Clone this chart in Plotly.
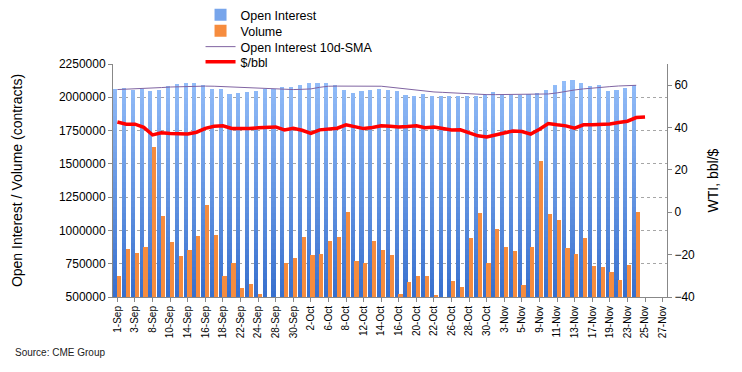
import numpy as np
import plotly.graph_objects as go

# ---------------- data ----------------
dates = ["1-Sep", "2-Sep", "3-Sep", "4-Sep", "8-Sep", "9-Sep", "10-Sep", "11-Sep",
         "14-Sep", "15-Sep", "16-Sep", "17-Sep", "18-Sep", "21-Sep", "22-Sep", "23-Sep",
         "24-Sep", "25-Sep", "28-Sep", "29-Sep", "30-Sep", "1-Oct", "2-Oct", "5-Oct",
         "6-Oct", "7-Oct", "8-Oct", "9-Oct", "12-Oct", "13-Oct", "14-Oct", "15-Oct",
         "16-Oct", "19-Oct", "20-Oct", "21-Oct", "22-Oct", "23-Oct", "26-Oct", "27-Oct",
         "28-Oct", "29-Oct", "30-Oct", "2-Nov", "3-Nov", "4-Nov", "5-Nov", "6-Nov",
         "9-Nov", "10-Nov", "11-Nov", "12-Nov", "13-Nov", "16-Nov", "17-Nov", "18-Nov",
         "19-Nov", "20-Nov", "23-Nov", "24-Nov", "25-Nov", "26-Nov", "27-Nov"]

open_interest = [2060000, 2068000, 2058000, 2060000, 2045000, 2058000, 2083000, 2098000,
                 2105000, 2105000, 2090000, 2060000, 2060000, 2023000, 2033000, 2040000,
                 2048000, 2060000, 2060000, 2075000, 2075000, 2090000, 2110000, 2110000,
                 2110000, 2090000, 2053000, 2035000, 2050000, 2058000, 2065000, 2058000,
                 2050000, 2015000, 2008000, 2023000, 2008000, 2008000, 2013000, 2008000,
                 2008000, 2008000, 2025000, 2040000, 2015000, 2015000, 2015000, 2025000,
                 2033000, 2053000, 2095000, 2120000, 2128000, 2105000, 2085000, 2095000,
                 2048000, 2055000, 2070000, 2090000]

volume = [658000, 861000, 833000, 878000, 1623000, 1111000, 916000, 811000,
          856000, 961000, 1192000, 966000, 660000, 758000, 570000, 598000,
          523000, 450000, 450000, 758000, 796000, 951000, 818000, 826000,
          923000, 951000, 1141000, 773000, 753000, 923000, 853000, 818000,
          523000, 615000, 660000, 660000, 515000, 450000, 623000, 578000,
          946000, 1134000, 753000, 1011000, 878000, 848000, 590000, 878000,
          1523000, 1124000, 1079000, 871000, 823000, 946000, 736000, 726000,
          691000, 628000, 741000, 1141000]

oi_sma10 = [2058000, 2060000, 2062000, 2065000, 2068000, 2073000, 2077000, 2080000,
            2083000, 2084000, 2084000, 2083000, 2080000, 2075000, 2072000, 2068000,
            2065000, 2062000, 2060000, 2058000, 2058000, 2060000, 2063000, 2075000,
            2083000, 2084000, 2084000, 2084000, 2084000, 2083000, 2083000, 2076000,
            2068000, 2063000, 2055000, 2047000, 2040000, 2037000, 2033000, 2030000,
            2025000, 2020000, 2020000, 2020000, 2020000, 2020000, 2020000, 2020000,
            2022000, 2025000, 2033000, 2045000, 2055000, 2063000, 2070000, 2075000,
            2080000, 2085000, 2088000, 2090000]

price = [42.6, 41.6, 41.6, 40.1, 36.5, 37.5, 37.2, 37.0, 37.0, 37.8, 39.6, 40.6,
         40.8, 39.6, 39.4, 39.5, 39.9, 40.1, 40.3, 38.9, 39.7, 38.7, 37.2, 38.9,
         39.5, 39.7, 41.3, 40.3, 39.5, 40.0, 40.8, 40.6, 40.3, 40.5, 40.8, 39.9,
         40.2, 39.5, 38.8, 38.9, 37.5, 36.1, 35.6, 36.6, 37.6, 38.4, 38.1, 36.9,
         39.2, 41.9, 41.3, 40.8, 39.7, 41.3, 41.3, 41.3, 41.7, 42.4, 43.0, 44.7, 45.0]

left_ticks = [500000, 750000, 1000000, 1250000, 1500000, 1750000, 2000000, 2250000]
right_ticks = [-40, -20, 0, 20, 40, 60]

# ---------------- styling ----------------
FONT = "Liberation Sans, Arial, sans-serif"
BLUE_BOTTOM = np.array([56, 112, 206])
BLUE_TOP = np.array([146, 188, 248])
ORANGE = "#f68c3e"
PURPLE = "#8064a2"
RED = "#ff0000"

def rgb(c):
    return "rgb(%d,%d,%d)" % tuple(int(round(v)) for v in c)

x_bars = dates[:len(open_interest)]
oi = np.array(open_interest, dtype=float)

BLUE_OFF, BLUE_W = -0.48, 0.47
ORG_OFF, ORG_W = -0.05, 0.48

fig = go.Figure()

# Open interest: full bar (legend entry) + overlaid shorter bands to build a vertical gradient
fig.add_trace(go.Bar(x=x_bars, y=open_interest, name="Open Interest",
                     marker=dict(color=rgb(BLUE_BOTTOM * 0.3 + BLUE_TOP * 0.7), line=dict(width=0)),
                     offset=BLUE_OFF, width=BLUE_W, legend="legend"))
n_bands = 36
levels = np.linspace(500000, 2130000, n_bands + 1)[1:]
for k in range(n_bands - 1, -1, -1):
    frac = k / (n_bands - 1)
    col = BLUE_BOTTOM + (BLUE_TOP - BLUE_BOTTOM) * frac
    fig.add_trace(go.Bar(x=x_bars, y=np.minimum(oi, levels[k]), showlegend=False,
                         marker=dict(color=rgb(col), line=dict(width=0)),
                         offset=BLUE_OFF, width=BLUE_W, hoverinfo="skip"))

fig.add_trace(go.Bar(x=x_bars, y=volume, name="Volume",
                     marker=dict(color=ORANGE, line=dict(width=0)),
                     offset=ORG_OFF, width=ORG_W, legend="legend2"))

fig.add_trace(go.Scatter(x=x_bars, y=oi_sma10, name="Open Interest 10d-SMA",
                         mode="lines", line=dict(color=PURPLE, width=1), legend="legend3"))

fig.add_trace(go.Scatter(x=dates[:len(price)], y=price, name="$/bbl", yaxis="y2",
                         mode="lines", line=dict(color=RED, width=3.5), legend="legend4"))

# plot area: x 113..667, y 64..297
L, R, T, B = 113, 75, 64, 75
W, H = 742, 372
ph = H - T - B

def cy(ypx):
    return 1 - ypx / H

def ly(ypx):
    return (H - B - ypx) / ph

leg_common = dict(x=0.158, xanchor="left", yanchor="middle", yref="container",
                  font=dict(family=FONT, size=12.5, color="black"), borderwidth=0)

fig.update_layout(
    width=W, height=H,
    margin=dict(l=L, r=R, t=T, b=B, pad=0, autoexpand=False),
    barmode="overlay", bargap=0,
    plot_bgcolor="white", paper_bgcolor="white",
    font=dict(family=FONT, size=12, color="black"),
    legend=dict(y=cy(15), bgcolor="rgba(255,255,255,0)", **leg_common),
    legend2=dict(y=cy(31), bgcolor="rgba(255,255,255,0)", **leg_common),
    legend3=dict(y=cy(47), bgcolor="rgba(255,255,255,0)", **leg_common),
    legend4=dict(y=cy(62), bgcolor="rgba(255,255,255,0)", **leg_common),
    xaxis=dict(type="category", categoryorder="array", categoryarray=dates,
               range=[-0.5, len(dates) - 0.5], tickmode="array", tickvals=dates[::2],
               ticktext=dates[::2], tickangle=-90, tickfont=dict(size=10),
               ticks="outside", ticklen=4, tickcolor="#888888",
               showline=True, linecolor="#888888", showgrid=False, zeroline=False),
    yaxis=dict(range=[500000, 2250000], tickvals=left_ticks, tickformat="d",
               showgrid=True, gridcolor="#a6a6a6", griddash="dot", gridwidth=1,
               showline=True, linecolor="#888888", ticks="outside", ticklen=4,
               tickcolor="#888888", zeroline=False, tickfont=dict(size=12),
               title=dict(text="Open Interest / Volume (contracts)",
                          font=dict(size=14), standoff=32)),
    yaxis2=dict(overlaying="y", side="right", range=[-40, 70], tickvals=right_ticks,
                showgrid=False, showline=True, linecolor="#888888", ticks="outside",
                ticklen=4, tickcolor="#888888", zeroline=False, tickfont=dict(size=12),
                title=dict(text="WTI, bbl/$", font=dict(size=14), standoff=14)),
    annotations=[dict(text="Source: CME Group", xref="paper", yref="paper",
                      x=(13 - L) / (W - L - R), xanchor="left",
                      y=ly(352), yanchor="middle", showarrow=False,
                      font=dict(family=FONT, size=10, color="#222222"))],
)

fig.write_html("out.html", config={"displayModeBar": False},
               post_script="document.body.style.margin='0px';document.body.style.overflow='hidden';")
